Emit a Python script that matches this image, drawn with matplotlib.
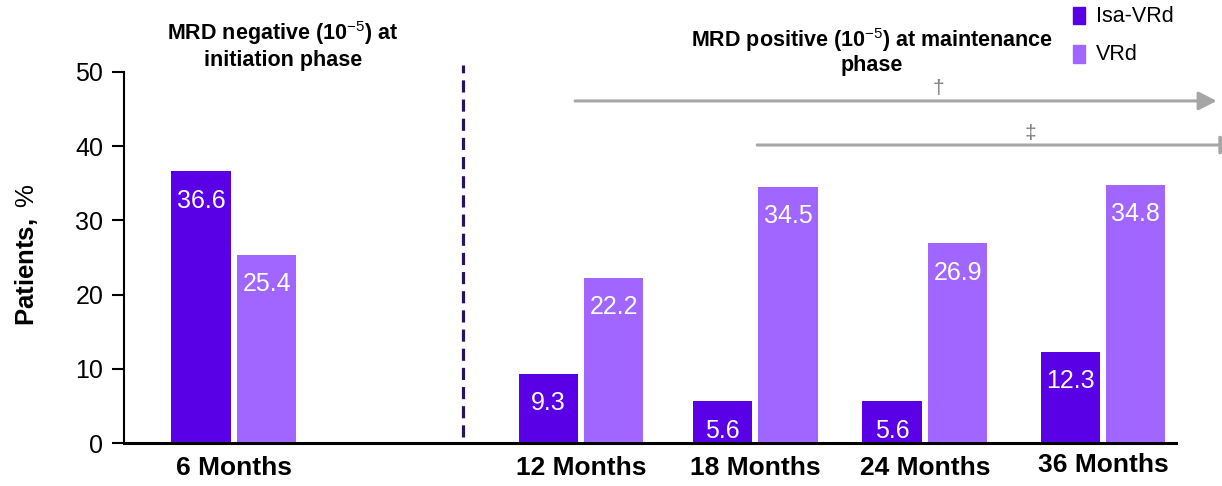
import matplotlib
matplotlib.use("Agg")
import matplotlib.pyplot as plt
from matplotlib.patches import FancyArrowPatch, Rectangle
import numpy as np

plt.rcParams["font.family"] = ["Liberation Sans", "DejaVu Sans"]
plt.rcParams["mathtext.fontset"] = "custom"
plt.rcParams["mathtext.rm"] = "Liberation Sans"
plt.rcParams["mathtext.it"] = "Liberation Sans:italic"
plt.rcParams["mathtext.bf"] = "Liberation Sans:bold"

# ---- data ----
months = ["6 Months", "12 Months", "18 Months", "24 Months", "36 Months"]
series_names = ["Isa-VRd", "VRd"]
isa_vrd = [36.6, 9.3, 5.6, 5.6, 12.3]
vrd = [25.4, 22.2, 34.5, 26.9, 34.8]
y_ticks = [0, 10, 20, 30, 40, 50]

# ---- layout ----
group_x = np.array([1.67, 6.95, 9.60, 12.18, 14.89])
bar_w = 0.9
half_gap = 0.5
ISA_COLOR = "#5A00E6"
VRD_COLOR = "#A066FF"
ARROW_GRAY = "#A6A6A6"

W, H = 1222, 486
fig = plt.figure(figsize=(W / 100, H / 100), dpi=100)
ax = fig.add_axes([124 / W, 1 - 443 / H, (1176 - 124) / W, (443 - 72) / H])

bars_isa = ax.bar(group_x - half_gap, isa_vrd, width=bar_w, color=ISA_COLOR)
bars_vrd = ax.bar(group_x + half_gap, vrd, width=bar_w, color=VRD_COLOR)

for bars, vals in ((bars_isa, isa_vrd), (bars_vrd, vrd)):
    for b, v in zip(bars, vals):
        ax.annotate(f"{v:.1f}", xy=(b.get_x() + b.get_width() / 2, v),
                    xytext=(0, -21), textcoords="offset points",
                    ha="center", va="center", color="white", fontsize=18)

ax.set_xlim(0, 16)
ax.set_ylim(0, 50)
ax.set_yticks(y_ticks)
ax.set_xticks(group_x)
ax.set_xticklabels(months, fontweight="bold", fontsize=19)
ax.tick_params(axis="x", length=0, pad=9)
ax.tick_params(axis="y", labelsize=18, length=9, width=1.5, pad=6)
for s in ("top", "right"):
    ax.spines[s].set_visible(False)
ax.spines["left"].set_linewidth(1.5)
ax.spines["bottom"].set_linewidth(2.2)
# last category label sits a little higher
ax.get_xticklabels()[-1].set_y(0.008)

# divider between phases
ax.plot([5.16, 5.16], [0.8, 50.9], color="#2A1458", lw=2.3,
        dashes=(3.8, 2.2), clip_on=False)

# phase arrows
for x0, x1, y in ((6.86, 16.62, 46.1), (9.63, 16.95, 40.16)):
    arr = FancyArrowPatch((x0, y), (x1, y),
                          arrowstyle="-|>,head_length=0.55,head_width=0.28",
                          mutation_scale=20, lw=2.2, color=ARROW_GRAY,
                          shrinkA=0, shrinkB=0, clip_on=False)
    ax.add_patch(arr)
ax.text(12.38, 47.0, "\u2020", ha="center", va="baseline", fontsize=15,
        color="#7F7F7F", clip_on=False)
ax.text(13.78, 41.0, "\u2021", ha="center", va="baseline", fontsize=15,
        color="#7F7F7F", clip_on=False)

# phase headings
fig.text(283 / W, 1 - 45 / H, "MRD negative (10$^{-5}$) at\ninitiation phase",
         ha="center", va="center", multialignment="center",
         fontsize=15.5, fontweight="bold", linespacing=1.15)
fig.text(872 / W, 1 - 51 / H, "MRD positive (10$^{-5}$) at maintenance\nphase",
         ha="center", va="center", multialignment="center",
         fontsize=15.5, fontweight="bold", linespacing=1.1)

# y-axis title
fig.text(26 / W, 1 - 255 / H, r"$\mathbf{Patients,}$ %", rotation=90,
         ha="center", va="center", fontsize=18.5)

# legend
for name, color, yc in zip(series_names, (ISA_COLOR, VRD_COLOR), (16, 54)):
    fig.patches.append(Rectangle((1073 / W, 1 - (yc + 8.5) / H), 12 / W, 17 / H,
                                 transform=fig.transFigure, color=color))
    fig.text(1096 / W, 1 - yc / H, name, ha="left", va="center", fontsize=15.5)

fig.savefig("out.png", dpi=100)
